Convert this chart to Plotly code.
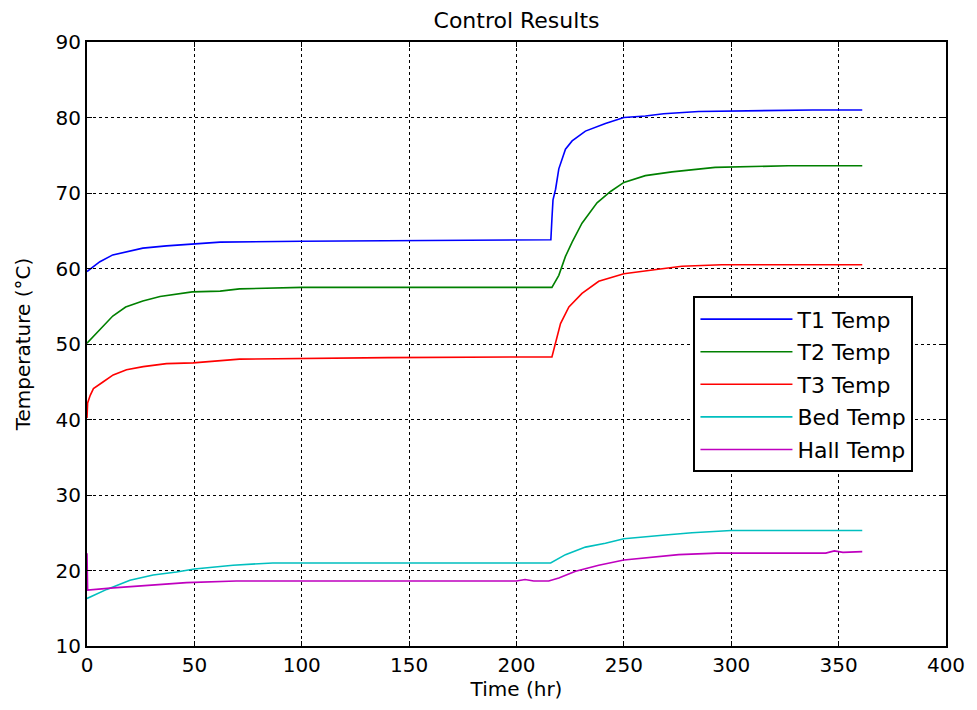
import plotly.graph_objects as go

# ---- data ----
t1_time = [0, 6, 12, 18, 26, 37, 49, 62, 100, 150, 216, 216.5, 217, 218.2, 219.7, 222.8, 225.9,
           232.1, 241.4, 250, 260, 268.5, 284.8, 338, 361]
t1_temp = [59.6, 60.9, 61.8, 62.2, 62.7, 63.0, 63.2, 63.5, 63.6, 63.7, 63.8, 66.6, 69.1, 70.5, 73.2,
           75.8, 76.9, 78.2, 79.2, 80.0, 80.2, 80.5, 80.8, 81.0, 81.0]

t2_time = [0, 3, 12, 18, 26, 34, 49, 62, 71, 100, 150, 216.5, 219.7, 222.8, 225.9, 230.5, 237.5,
           243.8, 250, 260, 272.4, 292.5, 326.6, 361]
t2_temp = [50.1, 51.0, 53.7, 54.9, 55.7, 56.3, 56.9, 57.0, 57.3, 57.5, 57.5, 57.5, 59.1, 61.6, 63.5,
           66.0, 68.7, 70.2, 71.4, 72.3, 72.8, 73.4, 73.6, 73.6]

t3_time = [0, 0.3, 1.5, 3, 7.6, 12.2, 18.4, 26.2, 37, 49.4, 71, 140, 216.5, 218.2, 220.5, 224.4,
           230.5, 238.3, 246, 250, 266, 277, 295.6, 361]
t3_temp = [40.2, 42.2, 43.2, 44.1, 45.0, 45.9, 46.6, 47.0, 47.4, 47.5, 48.0, 48.2, 48.3, 50.1, 52.7,
           54.9, 56.7, 58.3, 59.0, 59.3, 59.9, 60.3, 60.5, 60.5]

bed_time = [0, 9.2, 20, 30.8, 41.7, 50, 68, 86.5, 150, 215.9, 222.8, 232.1, 241.4, 250, 269.3,
            281.7, 300, 361]
bed_temp = [16.3, 17.5, 18.7, 19.4, 19.8, 20.2, 20.7, 21.0, 21.0, 21.0, 22.1, 23.1, 23.6, 24.2,
            24.7, 25.0, 25.3, 25.3]

hall_time = [0, 0.3, 12.2, 21.5, 32.4, 46.3, 69.5, 150, 200, 204, 208, 215, 219.7, 227.5, 238.3,
             250, 263, 275.5, 293.3, 344, 348, 352, 361]
hall_temp = [22.3, 17.4, 17.7, 17.9, 18.2, 18.4, 18.6, 18.6, 18.6, 18.8, 18.6, 18.6, 19.0, 19.9,
             20.7, 21.4, 21.8, 22.1, 22.3, 22.3, 22.6, 22.4, 22.5]

series = [
    ("T1 Temp", t1_time, t1_temp, "#0000FF"),
    ("T2 Temp", t2_time, t2_temp, "#008000"),
    ("T3 Temp", t3_time, t3_temp, "#FF0000"),
    ("Bed Temp", bed_time, bed_temp, "#00BFBF"),
    ("Hall Temp", hall_time, hall_temp, "#BF00BF"),
]

x_ticks = [0, 50, 100, 150, 200, 250, 300, 350, 400]
y_ticks = [10, 20, 30, 40, 50, 60, 70, 80, 90]

FONT = "DejaVu Sans, sans-serif"

fig = go.Figure()
for name, x, y, c in series:
    fig.add_trace(go.Scatter(x=x, y=y, name=name, mode="lines", legendgroup=name,
                             line=dict(color=c, width=1.6)))

axis_common = dict(
    showline=True, linecolor="black", linewidth=2, mirror="ticks",
    ticks="inside", ticklen=5, tickcolor="black", tickwidth=1,
    showgrid=True, gridcolor="black", gridwidth=1, griddash="dot",
    zeroline=False, tickfont=dict(family=FONT, size=20, color="black"),
)

# page body has an 8px margin, so the figure is 8px smaller than the window
fig.update_layout(
    width=969, height=702,
    margin=dict(l=79, r=29, t=34, b=64),
    paper_bgcolor="white", plot_bgcolor="white",
    title=dict(text="Control Results", x=0.5, xref="paper", y=0.983, yref="container",
               yanchor="middle", font=dict(family=FONT, size=22, color="black")),
    xaxis=dict(range=[0, 400], tickvals=x_ticks, ticktext=[str(v) for v in x_ticks],
               title=dict(text="Time (hr)", font=dict(family=FONT, size=20, color="black"),
                          standoff=2),
               **axis_common),
    yaxis=dict(range=[10, 90], tickvals=y_ticks, ticktext=[str(v) for v in y_ticks],
               title=dict(text="Temperature (°C)", font=dict(family=FONT, size=20, color="black"),
                          standoff=20),
               **axis_common),
    legend=dict(x=0.706, y=0.579, xanchor="left", yanchor="top",
                bordercolor="black", borderwidth=2, bgcolor="white",
                font=dict(family=FONT, size=22, color="black"),
                itemwidth=92, tracegroupgap=1),
    showlegend=True,
)

fig.write_html("out.html")
